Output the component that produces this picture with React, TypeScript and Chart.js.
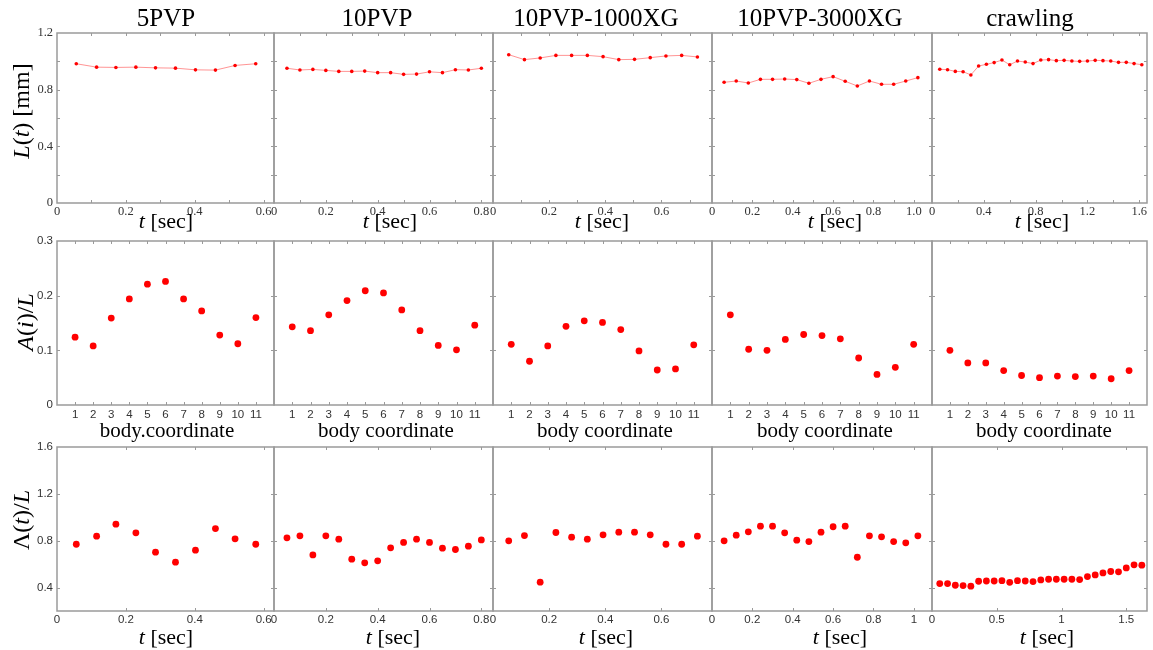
import React, { useEffect, useRef } from 'react';
import { Chart, registerables } from 'chart.js';

Chart.register(...registerables);

// ---------- text ----------
const columnTitles = ['5PVP', '10PVP', '10PVP-1000XG', '10PVP-3000XG', 'crawling'];
const bodyTitles = ['body.coordinate', 'body coordinate', 'body coordinate', 'body coordinate', 'body coordinate'];

// ---------- sampling times [sec] ----------
const t5PVP = [0.056, 0.115, 0.171, 0.229, 0.286, 0.344, 0.402, 0.46, 0.517, 0.577];
const t10PVP = [0.05, 0.1, 0.15, 0.2, 0.25, 0.3, 0.35, 0.4, 0.45, 0.5, 0.55, 0.6, 0.65, 0.7, 0.75, 0.8];
const t1000XG = [0.056, 0.112, 0.168, 0.224, 0.28, 0.336, 0.392, 0.448, 0.504, 0.56, 0.616, 0.672, 0.728];
const t3000XG = [0.06, 0.12, 0.18, 0.24, 0.3, 0.36, 0.42, 0.48, 0.54, 0.6, 0.66, 0.72, 0.78, 0.84, 0.9, 0.96, 1.02];
const tCrawl = [0.06, 0.12, 0.18, 0.24, 0.3, 0.36, 0.42, 0.48, 0.54, 0.6, 0.66, 0.72, 0.78, 0.84, 0.9, 0.96, 1.02, 1.08, 1.14, 1.2, 1.26, 1.32, 1.38, 1.44, 1.5, 1.56, 1.62];
const bodyCoord = [1, 2, 3, 4, 5, 6, 7, 8, 9, 10, 11];

// ---------- L(t) [mm] ----------
const L_5PVP = [0.983, 0.959, 0.957, 0.959, 0.954, 0.952, 0.94, 0.938, 0.971, 0.983];
const L_10PVP = [0.951, 0.939, 0.943, 0.936, 0.929, 0.929, 0.931, 0.92, 0.92, 0.908, 0.91, 0.926, 0.92, 0.941, 0.939, 0.951];
const L_1000XG = [1.047, 1.012, 1.024, 1.042, 1.042, 1.042, 1.033, 1.012, 1.014, 1.026, 1.038, 1.042, 1.031];
const L_3000XG = [0.852, 0.861, 0.847, 0.873, 0.873, 0.875, 0.871, 0.845, 0.873, 0.892, 0.859, 0.826, 0.861, 0.838, 0.838, 0.861, 0.885];
const L_crawl = [0.944, 0.941, 0.929, 0.927, 0.904, 0.967, 0.979, 0.991, 1.009, 0.976, 1.002, 0.995, 0.984, 1.009, 1.012, 1.005, 1.007, 1.002, 1.0, 1.002, 1.007, 1.005, 1.002, 0.993, 0.993, 0.984, 0.976];

// ---------- A(i)/L ----------
const A_5PVP = [0.124, 0.108, 0.159, 0.194, 0.221, 0.226, 0.194, 0.172, 0.128, 0.112, 0.16];
const A_10PVP = [0.143, 0.136, 0.165, 0.191, 0.209, 0.205, 0.174, 0.136, 0.109, 0.101, 0.146];
const A_1000XG = [0.111, 0.08, 0.108, 0.144, 0.154, 0.151, 0.138, 0.099, 0.064, 0.066, 0.11];
const A_3000XG = [0.165, 0.102, 0.1, 0.12, 0.129, 0.127, 0.121, 0.086, 0.056, 0.069, 0.111];
const A_crawl = [0.1, 0.077, 0.077, 0.063, 0.054, 0.05, 0.053, 0.052, 0.053, 0.048, 0.063];

// ---------- Λ(t)/L ----------
const Lam_5PVP = [0.77, 0.839, 0.941, 0.867, 0.702, 0.617, 0.719, 0.904, 0.816, 0.77];
const Lam_10PVP = [0.825, 0.842, 0.679, 0.842, 0.813, 0.642, 0.611, 0.628, 0.739, 0.785, 0.813, 0.785, 0.736, 0.725, 0.753, 0.807];
const Lam_1000XG = [0.799, 0.844, 0.446, 0.87, 0.83, 0.813, 0.85, 0.873, 0.873, 0.85, 0.77, 0.77, 0.839];
const Lam_3000XG = [0.799, 0.847, 0.876, 0.924, 0.924, 0.867, 0.805, 0.793, 0.873, 0.919, 0.924, 0.659, 0.842, 0.833, 0.793, 0.782, 0.842];
const Lam_crawl = [0.434, 0.434, 0.42, 0.417, 0.412, 0.454, 0.456, 0.456, 0.459, 0.445, 0.459, 0.456, 0.451, 0.465, 0.471, 0.471, 0.471, 0.471, 0.468, 0.494, 0.508, 0.525, 0.537, 0.534, 0.568, 0.594, 0.591];

// ---------- axis ranges & tick steps ----------
const timeMax = [0.63, 0.845, 0.78, 1.09, 1.66];
const topMinorStep = [0.1, 0.1, 0.1, 0.1, 0.2];
const topLabelStep = [0.2, 0.2, 0.2, 0.2, 0.4];
const bottomStep = [0.2, 0.2, 0.2, 0.2, 0.5];

const times = [t5PVP, t10PVP, t1000XG, t3000XG, tCrawl];
const lengths = [L_5PVP, L_10PVP, L_1000XG, L_3000XG, L_crawl];
const amps = [A_5PVP, A_10PVP, A_1000XG, A_3000XG, A_crawl];
const lams = [Lam_5PVP, Lam_10PVP, Lam_1000XG, Lam_3000XG, Lam_crawl];

// ---------- layout ----------
const COLX = [57, 274, 493, 712, 932, 1147];
const ROWY = [
  [33, 203],
  [241, 405],
  [447, 611],
];
const MT = 12;
const MB = 26;

const SERIF = '"Liberation Serif", "Times New Roman", serif';
const SANS = '"Liberation Sans", Arial, sans-serif';

const isMult = (v: number, s: number) => Math.abs(v / s - Math.round(v / s)) < 1e-6;

const framePlugin = {
  id: 'frame',
  afterDraw(chart: any) {
    const { ctx, chartArea: a, scales } = chart;
    ctx.save();
    ctx.strokeStyle = '#9a9a9a';
    ctx.lineWidth = 1;
    const len = 3;
    ctx.beginPath();
    const xs = scales.x;
    xs.ticks.forEach((_t: any, i: number) => {
      const px = Math.round(xs.getPixelForTick(i)) + 0.5;
      if (px <= a.left + 2 || px >= a.right - 2) return;
      ctx.moveTo(px, a.bottom);
      ctx.lineTo(px, a.bottom - len);
      ctx.moveTo(px, a.top);
      ctx.lineTo(px, a.top + len);
    });
    const ys = scales.y;
    ys.ticks.forEach((_t: any, i: number) => {
      const py = Math.round(ys.getPixelForTick(i)) + 0.5;
      if (py <= a.top + 2 || py >= a.bottom - 2) return;
      ctx.moveTo(a.left, py);
      ctx.lineTo(a.left + len, py);
      ctx.moveTo(a.right, py);
      ctx.lineTo(a.right - len, py);
    });
    ctx.stroke();
    ctx.lineWidth = 1.5;
    ctx.strokeRect(a.left, a.top, a.right - a.left, a.bottom - a.top);
    ctx.restore();
  },
};

type PanelSpec = {
  row: number;
  col: number;
};

function buildConfig(row: number, col: number, ML: number, MR: number): any {
  let xs: number[];
  let ys: number[];
  if (row === 0) {
    xs = times[col];
    ys = lengths[col];
  } else if (row === 1) {
    xs = bodyCoord;
    ys = amps[col];
  } else {
    xs = times[col];
    ys = lams[col];
  }
  const points = xs.map((x, i) => ({ x, y: ys[i] }));
  const tickColor = '#333';
  const serifFont = { family: SERIF, size: 12.5 };
  const sansFont = { family: SANS, size: 11.5 };

  let xScale: any;
  if (row === 0) {
    xScale = {
      type: 'linear',
      min: 0,
      max: timeMax[col],
      ticks: {
        stepSize: topMinorStep[col],
        includeBounds: false,
        autoSkip: false,
        maxRotation: 0,
        padding: 1,
        color: tickColor,
        font: serifFont,
        callback: (v: number) =>
          isMult(v, topLabelStep[col]) ? (Math.abs(v) < 1e-9 ? '0' : v.toFixed(1)) : '',
      },
    };
  } else if (row === 1) {
    xScale = {
      type: 'linear',
      min: 0,
      max: 12,
      ticks: {
        stepSize: 1,
        includeBounds: false,
        autoSkip: false,
        maxRotation: 0,
        padding: 3,
        color: tickColor,
        font: sansFont,
        callback: (v: number) => (v >= 1 && v <= 11 ? String(Math.round(v)) : ''),
      },
    };
  } else {
    xScale = {
      type: 'linear',
      min: 0,
      max: timeMax[col],
      ticks: {
        stepSize: bottomStep[col],
        includeBounds: false,
        autoSkip: false,
        maxRotation: 0,
        padding: 2,
        color: tickColor,
        font: sansFont,
        callback: (v: number) => String(parseFloat(v.toFixed(2))),
      },
    };
  }
  xScale.grid = { display: false, drawTicks: false };
  xScale.border = { display: false };
  xScale.afterFit = (s: any) => {
    s.height = MB;
  };

  let yScale: any;
  if (row === 0) {
    yScale = {
      type: 'linear',
      min: 0,
      max: 1.2,
      ticks: {
        stepSize: 0.2,
        includeBounds: false,
        autoSkip: false,
        padding: 4,
        color: tickColor,
        font: serifFont,
        callback: (v: number) => (isMult(v, 0.4) ? (Math.abs(v) < 1e-9 ? '0' : v.toFixed(1)) : ''),
      },
    };
  } else if (row === 1) {
    yScale = {
      type: 'linear',
      min: 0,
      max: 0.3,
      ticks: {
        stepSize: 0.1,
        includeBounds: false,
        autoSkip: false,
        padding: 4,
        color: tickColor,
        font: sansFont,
        callback: (v: number) => (Math.abs(v) < 1e-9 ? '0' : v.toFixed(1)),
      },
    };
  } else {
    yScale = {
      type: 'linear',
      min: 0.2,
      max: 1.6,
      ticks: {
        stepSize: 0.4,
        includeBounds: false,
        autoSkip: false,
        padding: 4,
        color: tickColor,
        font: sansFont,
        callback: (v: number) => v.toFixed(1),
      },
    };
  }
  yScale.ticks.display = col === 0;
  yScale.grid = { display: false, drawTicks: false };
  yScale.border = { display: false };
  yScale.afterFit = (s: any) => {
    s.width = ML;
  };

  return {
    type: 'scatter',
    data: {
      datasets: [
        {
          data: points,
          showLine: row === 0,
          borderColor: 'rgba(255, 60, 60, 0.55)',
          borderWidth: 1,
          pointRadius: row === 0 ? 1.8 : 3.4,
          pointBackgroundColor: '#ff0000',
          pointBorderColor: '#ff0000',
          pointBorderWidth: 0,
        },
      ],
    },
    options: {
      responsive: false,
      animation: false,
      events: [],
      layout: { padding: { top: MT, right: MR, left: 0, bottom: 0 } },
      plugins: { legend: { display: false }, tooltip: { enabled: false }, title: { display: false } },
      scales: { x: xScale, y: yScale },
    },
    plugins: [framePlugin],
  };
}

function Panel({ row, col }: PanelSpec) {
  const ref = useRef<HTMLCanvasElement | null>(null);
  const ML = col === 0 ? COLX[0] : 22;
  const MR = col === 4 ? 6 : 22;
  const x0 = COLX[col];
  const x1 = COLX[col + 1];
  const [y0, y1] = ROWY[row];
  const W = x1 - x0 + ML + MR;
  const H = y1 - y0 + MT + MB;
  const left = x0 - ML;
  const top = y0 - MT;

  useEffect(() => {
    if (!ref.current) return;
    const chart = new Chart(ref.current, buildConfig(row, col, ML, MR));
    return () => chart.destroy();
  }, [row, col]);

  return (
    <canvas
      ref={ref}
      width={W}
      height={H}
      style={{ position: 'absolute', left, top, width: W, height: H }}
    />
  );
}

function Label({
  x,
  y,
  size,
  rotate,
  children,
}: {
  x: number;
  y: number;
  size: number;
  rotate?: boolean;
  children: React.ReactNode;
}) {
  return (
    <div
      style={{
        position: 'absolute',
        left: x,
        top: y,
        transform: `translate(-50%, -50%)${rotate ? ' rotate(-90deg)' : ''}`,
        fontFamily: SERIF,
        fontSize: size,
        lineHeight: 1,
        whiteSpace: 'nowrap',
        color: '#000',
      }}
    >
      {children}
    </div>
  );
}

const titleX = [166, 377, 596, 820, 1030];
const topXTitleX = [166, 390, 602, 835, 1042];
const midXTitleX = [167, 386, 605, 825, 1044];
const botXTitleX = [166, 393, 606, 840, 1047];

export default function App() {
  const panels: PanelSpec[] = [];
  for (let r = 0; r < 3; r++) for (let c = 0; c < 5; c++) panels.push({ row: r, col: c });
  return (
    <div
      style={{
        position: 'absolute',
        left: 0,
        top: 0,
        width: 1153,
        height: 650,
        background: '#fff',
        overflow: 'hidden',
      }}
    >
      {panels.map((p) => (
        <Panel key={`${p.row}-${p.col}`} row={p.row} col={p.col} />
      ))}
      {columnTitles.map((t, i) => (
        <Label key={'ct' + i} x={titleX[i]} y={17} size={25}>
          {t}
        </Label>
      ))}
      {topXTitleX.map((x, i) => (
        <Label key={'tx' + i} x={x} y={221} size={22}>
          <i>t</i> [sec]
        </Label>
      ))}
      {midXTitleX.map((x, i) => (
        <Label key={'mx' + i} x={x} y={430} size={21}>
          {bodyTitles[i]}
        </Label>
      ))}
      {botXTitleX.map((x, i) => (
        <Label key={'bx' + i} x={x} y={637} size={22}>
          <i>t</i> [sec]
        </Label>
      ))}
      <Label x={21} y={111} size={24} rotate>
        <i>L</i>(<i>t</i>) [mm]
      </Label>
      <Label x={25} y={322} size={24} rotate>
        <i>A</i>(<i>i</i>)/<i>L</i>
      </Label>
      <Label x={21} y={520} size={24} rotate>
        Λ(<i>t</i>)/<i>L</i>
      </Label>
    </div>
  );
}
